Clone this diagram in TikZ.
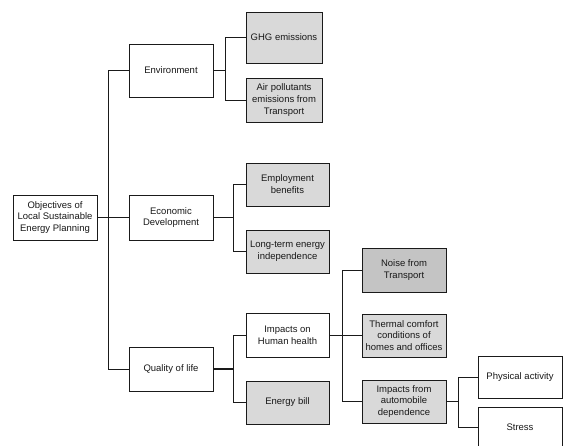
\documentclass[tikz,border=0pt]{standalone}
\usepackage{fontspec}
\setmainfont{Liberation Sans}
\definecolor{boxgray}{HTML}{D9D9D9}
\definecolor{noisegray}{HTML}{C4C4C4}
\definecolor{edge}{HTML}{1A1A1A}
\begin{document}
\begin{tikzpicture}[x=1pt,y=-1pt,
  box/.style={draw=edge, line width=0.9pt, rectangle, inner sep=1pt, align=center,
    font=\fontsize{9.5}{11.8}\selectfont, text=black!90},
  wbox/.style={box, fill=white},
  gbox/.style={box, fill=boxgray},
  link/.style={draw=edge, line width=0.8pt},
  thick link/.style={draw=edge, line width=1.6pt}]
\useasboundingbox (0,0) rectangle (579,446);
\fill[white] (0,0) rectangle (579,446);
% nodes
\node[wbox, minimum width=84pt, minimum height=45pt] (root) at (55,217.5) {Objectives of\\Local Sustainable\\Energy Planning};
\node[wbox, minimum width=84pt, minimum height=53pt] (env) at (171,70.5) {Environment};
\node[gbox, minimum width=76pt, minimum height=51pt] (ghg) at (284,37.5) {GHG emissions};
\node[gbox, minimum width=76pt, minimum height=44pt] (air) at (284,100) {Air pollutants\\emissions from\\Transport};
\node[wbox, minimum width=84pt, minimum height=45pt] (econ) at (171,217.5) {Economic\\Development};
\node[gbox, minimum width=83pt, minimum height=43pt] (emp) at (287.5,184.5) {Employment\\benefits};
\node[gbox, minimum width=83pt, minimum height=43pt] (lt) at (287.5,251.5) {Long-term energy\\independence};
\node[wbox, minimum width=84pt, minimum height=44pt] (qol) at (171,369) {Quality of life};
\node[wbox, minimum width=83pt, minimum height=44pt] (ihh) at (287.5,335) {Impacts on\\Human health};
\node[gbox, minimum width=83pt, minimum height=43pt] (eb) at (287.5,402.5) {Energy bill};
\node[box, fill=noisegray, minimum width=84pt, minimum height=44pt] (noise) at (404,270) {Noise from\\Transport};
\node[gbox, minimum width=84pt, minimum height=43pt] (therm) at (404,335.5) {Thermal comfort\\conditions of\\homes and offices};
\node[gbox, minimum width=84pt, minimum height=43pt] (auto) at (404,401.5) {Impacts from\\automobile\\dependence};
\node[wbox, minimum width=84pt, minimum height=42pt] (pa) at (520,377) {Physical activity};
\node[wbox, minimum width=84pt, minimum height=41pt] (stress) at (520,427.5) {Stress};
% fork coordinates
\coordinate (trunk) at (108,0);
\coordinate (f1) at (225,0);
\coordinate (f2) at (233,0);
\coordinate (f3) at (342,0);
\coordinate (f4) at (458,0);
% connectors
\draw[thick link] (root.east) -- (econ.west);
\draw[link] (env.west) -- (env.west -| trunk) -- (qol.west -| trunk) -- (qol.west);
\draw[thick link] (env.east) -- (env.east -| f1);
\draw[link] (ghg.west) -- (ghg.west -| f1) -- (air.west -| f1) -- (air.west);
\draw[thick link] (econ.east) -- (econ.east -| f2);
\draw[link] (emp.west) -- (emp.west -| f2) -- (lt.west -| f2) -- (lt.west);
\draw[thick link] (qol.east) -- (qol.east -| f2);
\draw[link] (ihh.west) -- (ihh.west -| f2) -- (eb.west -| f2) -- (eb.west);
\draw[link] (ihh.east) -- (ihh.east -| therm.west);
\draw[link] (noise.west) -- (noise.west -| f3) -- (auto.west -| f3) -- (auto.west);
\draw[thick link] (auto.east) -- (auto.east -| f4);
\draw[link] (pa.west) -- (pa.west -| f4) -- (stress.west -| f4) -- (stress.west);
\end{tikzpicture}
\end{document}
